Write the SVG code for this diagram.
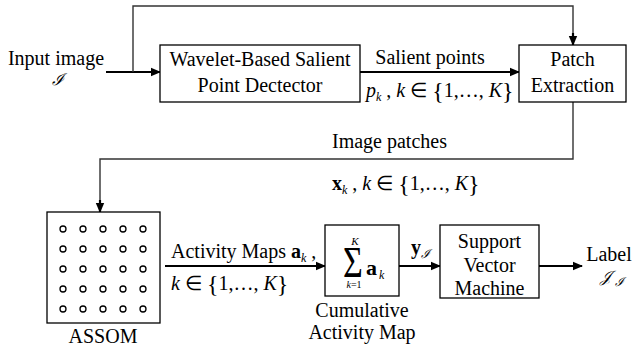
<svg xmlns="http://www.w3.org/2000/svg" width="634" height="354" viewBox="0 0 634 354">
<style>
text{font-family:'Liberation Serif','Times New Roman',serif;font-size:20px;fill:#000}
.m{text-anchor:middle}
.i{font-style:italic}
.b{font-weight:bold}
.sub{font-size:12px;font-style:italic}
.s11{font-size:11px}
.s10{font-size:10px}
.s22{font-size:22px}
.s34{font-size:34px}
.scr{font-family:'DejaVu Serif',serif;font-style:italic}
.scr16{font-size:16px}
.scr12{font-size:12px}
.box{fill:#fff;stroke:#000;stroke-width:1.3}
.th{fill:none;stroke:#000;stroke-width:2.2}
.tn{fill:none;stroke:#333;stroke-width:1.4}
.dot{fill:none;stroke:#000;stroke-width:1.3}
</style>
<defs>
<marker id="ah" markerWidth="10" markerHeight="10" refX="9" refY="5" orient="auto" markerUnits="userSpaceOnUse">
<path d="M0,0.8 L10,5 L0,9.2 Z" fill="#000"/>
</marker>
</defs>
<g id="connectors">
<path class="th" d="M106,72 H160" marker-end="url(#ah)"/>
<path class="tn" d="M133,72 V6 H573 V34"/>
<path class="th" d="M573,33 V45" marker-end="url(#ah)"/>
<path class="th" d="M360,72 H519" marker-end="url(#ah)"/>
<path class="tn" d="M573,102 V159 H100 V202"/>
<path class="th" d="M100,200 V212" marker-end="url(#ah)"/>
<path class="th" d="M165,266 H325" marker-end="url(#ah)"/>
<path class="th" d="M399,266 H440" marker-end="url(#ah)"/>
<path class="th" d="M539,266 H582" marker-end="url(#ah)"/>
</g>
<g id="input">
<text x="56" y="65" class="m">Input image</text>
<text x="58" y="85" class="m scr scr16">ℐ</text>
</g>
<g id="wavelet">
<rect class="box" x="160" y="45" width="200" height="57"/>
<text x="260" y="66" class="m">Wavelet-Based Salient</text>
<text x="260" y="92" class="m">Point Dectector</text>
</g>
<g id="salient-label">
<text x="430" y="64" class="m">Salient points</text>
<text x="366" y="97"><tspan class="i">p</tspan><tspan class="sub" dy="4">k</tspan><tspan dy="-4"> , </tspan><tspan class="i">k</tspan> ∈ <tspan font-size="24" dy="2">{</tspan><tspan dy="-2">1,…, </tspan><tspan class="i">K</tspan><tspan font-size="24" dy="2">}</tspan></text>
</g>
<g id="patch">
<rect class="box" x="519" y="45" width="107" height="57"/>
<text x="572.5" y="66" class="m">Patch</text>
<text x="572.5" y="92" class="m">Extraction</text>
</g>
<g id="patches-label">
<text x="332" y="148">Image patches</text>
<text x="332" y="190"><tspan class="b">x</tspan><tspan class="sub" dy="4">k</tspan><tspan dy="-4"> , </tspan><tspan class="i">k</tspan> ∈ <tspan font-size="24" dy="2">{</tspan><tspan dy="-2">1,…, </tspan><tspan class="i">K</tspan><tspan font-size="24" dy="2">}</tspan></text>
</g>
<g id="assom">
<rect class="box" x="47" y="212" width="113" height="111"/>
<g class="dot">
<circle cx="63" cy="229" r="3"/><circle cx="83" cy="229" r="3"/><circle cx="103" cy="229" r="3"/><circle cx="123" cy="229" r="3"/><circle cx="143" cy="229" r="3"/>
<circle cx="63" cy="249" r="3"/><circle cx="83" cy="249" r="3"/><circle cx="103" cy="249" r="3"/><circle cx="123" cy="249" r="3"/><circle cx="143" cy="249" r="3"/>
<circle cx="63" cy="269" r="3"/><circle cx="83" cy="269" r="3"/><circle cx="103" cy="269" r="3"/><circle cx="123" cy="269" r="3"/><circle cx="143" cy="269" r="3"/>
<circle cx="63" cy="289" r="3"/><circle cx="83" cy="289" r="3"/><circle cx="103" cy="289" r="3"/><circle cx="123" cy="289" r="3"/><circle cx="143" cy="289" r="3"/>
<circle cx="63" cy="309" r="3"/><circle cx="83" cy="309" r="3"/><circle cx="103" cy="309" r="3"/><circle cx="123" cy="309" r="3"/><circle cx="143" cy="309" r="3"/>
</g>
<text x="103" y="343" class="m">ASSOM</text>
</g>
<g id="activity-label">
<text x="171" y="258">Activity Maps <tspan class="b">a</tspan><tspan class="sub" dy="4">k</tspan><tspan dy="-4"> ,</tspan></text>
<text x="171" y="290"><tspan class="i">k</tspan> ∈ <tspan font-size="24" dy="2">{</tspan><tspan dy="-2">1,…, </tspan><tspan class="i">K</tspan><tspan font-size="24" dy="2">}</tspan></text>
</g>
<g id="cumulative">
<rect class="box" x="325" y="225" width="74" height="71"/>
<text x="355" y="245" class="m i s11">K</text>
<text class="m s34" transform="translate(353,277) scale(1,1.29)">Σ</text>
<text x="354" y="288" class="m s10"><tspan class="i">k</tspan>=1</text>
<text x="366" y="275" class="b s22">a</text>
<text x="379" y="279" class="sub">k</text>
<text x="362" y="317" class="m">Cumulative</text>
<text x="362" y="339" class="m">Activity Map</text>
</g>
<g id="y-label">
<text x="411" y="254" class="b">y</text>
<text x="421" y="258" class="scr scr12">ℐ</text>
</g>
<g id="svm">
<rect class="box" x="440" y="225" width="99" height="73"/>
<text x="489.5" y="248" class="m">Support</text>
<text x="489.5" y="272" class="m">Vector</text>
<text x="489.5" y="295" class="m">Machine</text>
</g>
<g id="output">
<text x="609" y="261" class="m">Label</text>
<text x="600" y="282" class="scr scr16">𝒥</text>
<text x="615" y="286" class="scr scr12">ℐ</text>
</g>
</svg>
